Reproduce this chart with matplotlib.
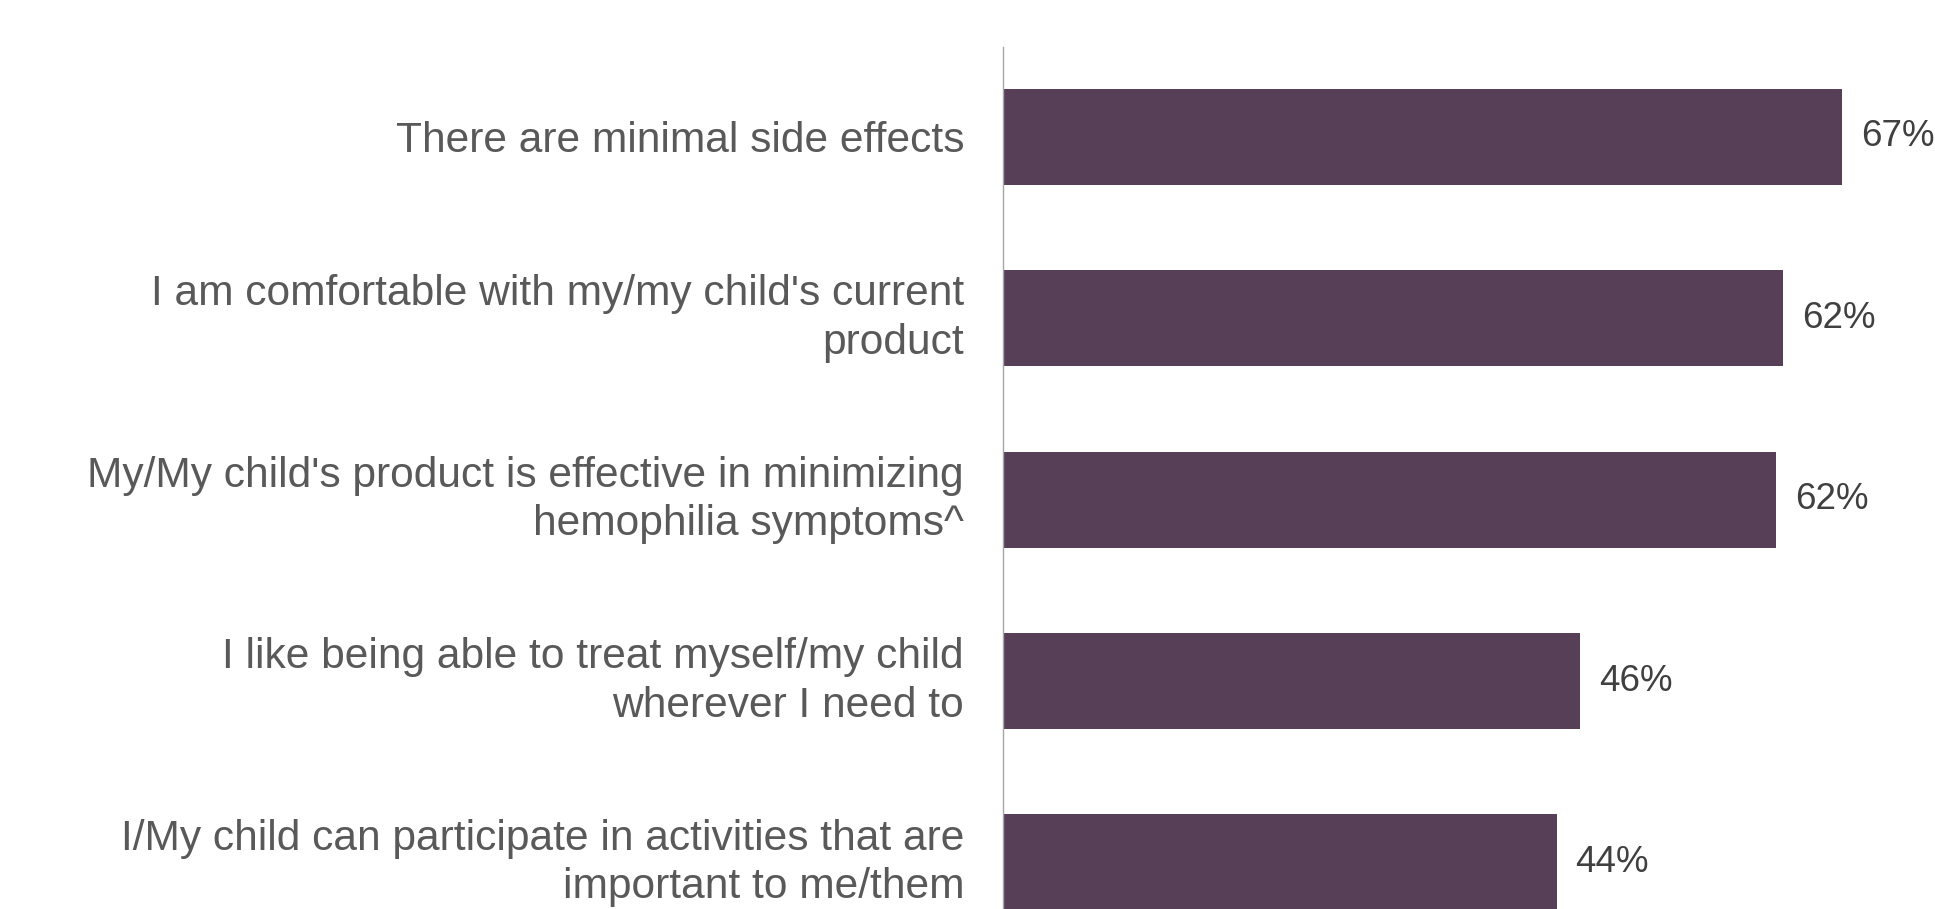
import matplotlib
matplotlib.use("Agg")
import matplotlib.pyplot as plt
import matplotlib.transforms as mtransforms

# Data
categories = [
    "There are minimal side effects",
    "I am comfortable with my/my child's current\nproduct",
    "My/My child's product is effective in minimizing\nhemophilia symptoms^",
    "I like being able to treat myself/my child\nwherever I need to",
    "I/My child can participate in activities that are\nimportant to me/them",
]
values = [67.0, 62.3, 61.7, 46.1, 44.2]
value_labels = ["67%", "62%", "62%", "46%", "44%"]

W, H, DPI = 1935, 909, 100
fig = plt.figure(figsize=(W / DPI, H / DPI), dpi=DPI)
fig.patch.set_facecolor("white")

ax_left = 1003 / W
ax_top = 47
ax = fig.add_axes([ax_left, 0, 1 - ax_left, (H - ax_top) / H])

bar_color = "#573f58"
pos = list(range(len(categories)))
bars = ax.barh(pos, values, height=0.53, color=bar_color)

ax.set_xlim(0, 74.4)
ax.set_ylim(4.256, -0.496)

ax.set_yticks(pos)
ax.set_yticklabels([])
ax.tick_params(axis="y", length=0)
ax.set_xticks([])

# category labels, right-aligned left of the axis line
blend = mtransforms.blended_transform_factory(ax.transAxes, ax.transData)
for p, cat in zip(pos, categories):
    dy = 0.085 if "\n" in cat else 0.0
    tr = blend + mtransforms.ScaledTranslation(-0.389, dy, fig.dpi_scale_trans)
    ax.text(0, p, cat, transform=tr, ha="right", va="center_baseline",
            multialignment="right", fontsize=30.6, color="#595959",
            linespacing=1.28, family=["Liberation Sans", "DejaVu Sans"],
            clip_on=False)

for s in ["top", "right", "bottom"]:
    ax.spines[s].set_visible(False)
ax.spines["left"].set_color("#a6a6a6")
ax.spines["left"].set_linewidth(1.0)

for b, lab in zip(bars, value_labels):
    ax.annotate(lab, xy=(b.get_width(), b.get_y() + b.get_height() / 2),
                xytext=(13.5, 0), textcoords="offset points",
                ha="left", va="center", fontsize=26.5,
                family=["Liberation Sans", "DejaVu Sans"], color="#404040",
                annotation_clip=False)

fig.savefig("out.png", dpi=DPI, facecolor="white")
